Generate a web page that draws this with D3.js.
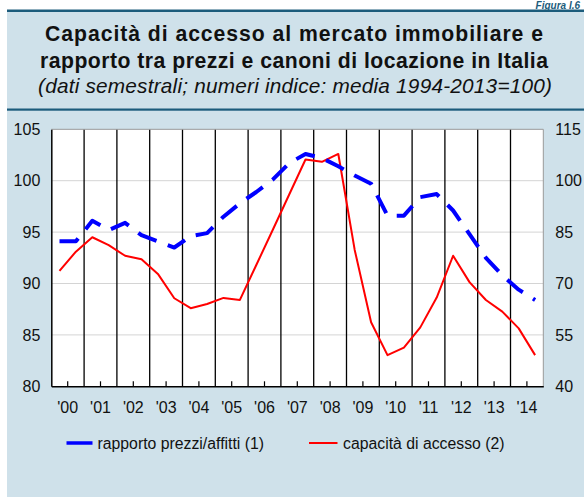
<!DOCTYPE html>
<html><head><meta charset="utf-8">
<script src="https://cdn.jsdelivr.net/npm/d3@7/dist/d3.min.js"></script>
<style>
html,body{margin:0;padding:0;background:#fff;}
svg{display:block;font-family:"Liberation Sans",Arial,Helvetica,sans-serif;}
</style></head>
<body>
<svg id="chart" width="584" height="497"></svg>
<script>
// ---- data ----
const years = ["'00","'01","'02","'03","'04","'05","'06","'07","'08","'09","'10","'11","'12","'13","'14"];
const leftTicks = [80, 85, 90, 95, 100, 105];
const rightTicks = [40, 55, 70, 85, 100, 115];
// semestral values, 2000 H1 ... 2014 H2
const rapportoPrezziAffitti = [94.1, 94.1, 96.1, 95.2, 95.9, 94.7, 94.1, 93.5, 94.6, 94.9,
  96.5, 97.8, 98.9, 100.1, 101.7, 102.6, 102.2, 101.4, 100.5, 99.7,
  96.6, 96.6, 98.4, 98.7, 97.1, 94.8, 92.5, 90.8, 89.4, 88.4];
const capacitaAccesso = [73.7, 79.3, 83.5, 81.2, 78.1, 77.1, 72.8, 65.7, 62.8, 64.0,
  65.8, 65.2, 75.4, 85.6, 95.9, 106.2, 105.5, 107.8, 79.8, 58.7,
  49.1, 51.3, 57.2, 65.9, 78.1, 70.4, 65.2, 61.8, 56.9, 49.1];
const legendLabels = ["rapporto prezzi/affitti (1)", "capacità di accesso (2)"];
const titleLines = ["Capacità di accesso al mercato immobiliare e", "rapporto tra prezzi e canoni di locazione in Italia"];
const subtitle = "(dati semestrali; numeri indice: media 1994-2013=100)";

// ---- layout ----
const svg = d3.select("#chart");
const W = 584, H = 497;
const plot = {left: 51.3, right: 543.3, top: 129.3, bottom: 386.3};
const panelBg = "#cfe1ea";
const teal = "#1c5c7c";

svg.append("rect").attr("x", 7).attr("y", 11).attr("width", W - 7).attr("height", H - 11).attr("fill", panelBg);
svg.append("rect").attr("x", 7).attr("y", 9.5).attr("width", W - 7).attr("height", 2.5).attr("fill", teal);
svg.append("text").attr("x", 580).attr("y", 8.5).attr("text-anchor", "end")
  .attr("font-size", 10).attr("font-weight", "bold").attr("font-style", "italic").attr("fill", teal)
  .text("Figura I.6");

// titles
const titleWidths = [498, 508];
svg.selectAll("text.title").data(titleLines).join("text").attr("class", "title")
  .attr("x", (d, i) => 294 - titleWidths[i] / 2).attr("y", (d, i) => 41 + i * 26.5)
  .attr("textLength", (d, i) => titleWidths[i]).attr("lengthAdjust", "spacing")
  .attr("font-size", 21.2).attr("font-weight", "bold").attr("fill", "#111").text(d => d);
svg.append("text").attr("x", 38).attr("y", 93)
  .attr("textLength", 514).attr("lengthAdjust", "spacing")
  .attr("font-size", 20.8).attr("font-style", "italic").attr("fill", "#111").text(subtitle);
svg.append("rect").attr("x", 7).attr("y", 108.5).attr("width", W - 7).attr("height", 2.2).attr("fill", teal);

// scales
const xBand = d3.scaleBand().domain(years).range([plot.left, plot.right]);
const xSem = d3.scaleLinear().domain([0, 30]).range([plot.left, plot.right]);
const yL = d3.scaleLinear().domain([80, 105]).range([plot.bottom, plot.top]);
const yR = d3.scaleLinear().domain([40, 115]).range([plot.bottom, plot.top]);

// plot background
svg.append("rect").attr("x", plot.left).attr("y", plot.top)
  .attr("width", plot.right - plot.left).attr("height", plot.bottom - plot.top).attr("fill", "#fff");

// gridlines
svg.append("g").selectAll("line").data(leftTicks.slice(1, -1)).join("line")
  .attr("x1", plot.left).attr("x2", plot.right).attr("y1", d => yL(d)).attr("y2", d => yL(d))
  .attr("stroke", "#d4d4d4").attr("stroke-width", 1);

// vertical year separators
svg.append("g").selectAll("line").data(years.slice(1)).join("line")
  .attr("x1", d => xBand(d)).attr("x2", d => xBand(d)).attr("y1", plot.top).attr("y2", plot.bottom)
  .attr("stroke", "#000").attr("stroke-width", 1.3);

// frame
svg.append("line").attr("x1", plot.left).attr("x2", plot.right).attr("y1", plot.top).attr("y2", plot.top)
  .attr("stroke", "#999").attr("stroke-width", 1);
svg.append("line").attr("x1", plot.right).attr("x2", plot.right).attr("y1", plot.top).attr("y2", plot.bottom)
  .attr("stroke", "#999").attr("stroke-width", 1);

const tickFont = "Liberation Sans, Arial, sans-serif";
// x axis
const xAxis = svg.append("g").attr("transform", `translate(0,${plot.bottom})`)
  .call(d3.axisBottom(xBand).tickSize(-5).tickSizeOuter(0).tickPadding(12));
xAxis.select(".domain").attr("stroke", "#000").attr("stroke-width", 1.5);
xAxis.selectAll(".tick line").attr("stroke", "#000").attr("stroke-width", 1.2);
xAxis.selectAll(".tick text").attr("font-size", 16).attr("fill", "#111").attr("font-family", tickFont).attr("dy", "0.9em");

// left axis
const lAxis = svg.append("g").attr("transform", `translate(${plot.left},0)`)
  .call(d3.axisLeft(yL).tickValues(leftTicks).tickSize(0).tickPadding(11));
lAxis.select(".domain").attr("stroke", "#000").attr("stroke-width", 1.5);
lAxis.selectAll(".tick text").attr("font-size", 16).attr("fill", "#111").attr("font-family", tickFont);

// right axis
const rAxis = svg.append("g").attr("transform", `translate(${plot.right},0)`)
  .call(d3.axisRight(yR).tickValues(rightTicks).tickSize(0).tickPadding(12));
rAxis.select(".domain").remove();
rAxis.selectAll(".tick text").attr("font-size", 16).attr("fill", "#111").attr("font-family", tickFont);

// lines
const lineL = d3.line().x((d, i) => xSem(i + 0.5)).y(d => yL(d));
const lineR = d3.line().x((d, i) => xSem(i + 0.5)).y(d => yR(d));
svg.append("path").datum(capacitaAccesso).attr("d", lineR)
  .attr("fill", "none").attr("stroke", "#ff0000").attr("stroke-width", 2).attr("stroke-linejoin", "round");
svg.append("path").datum(rapportoPrezziAffitti).attr("d", lineL)
  .attr("fill", "none").attr("stroke", "#0000ff").attr("stroke-width", 4)
  .attr("stroke-dasharray", "20,12").attr("stroke-linejoin", "round");

// legend
const legendItems = [
  {label: legendLabels[0], color: "#0000ff", w: 3.5, x1: 66.5, x2: 92.5, tx: 97.5},
  {label: legendLabels[1], color: "#ff0000", w: 2, x1: 309, x2: 337.5, tx: 343}
];
const lg = svg.append("g").selectAll("g").data(legendItems).join("g");
lg.append("line").attr("x1", d => d.x1).attr("x2", d => d.x2).attr("y1", 443).attr("y2", 443)
  .attr("stroke", d => d.color).attr("stroke-width", d => d.w);
lg.append("text").attr("x", d => d.tx).attr("y", 448.5).attr("font-size", 15.8).attr("fill", "#111").text(d => d.label);
</script>
</body></html>
